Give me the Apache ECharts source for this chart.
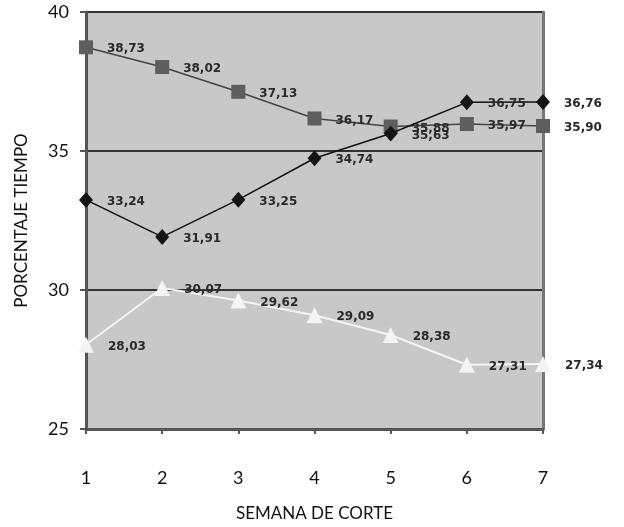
<!DOCTYPE html>
<html><head><meta charset="utf-8">
<script src="https://cdn.jsdelivr.net/npm/echarts@6/dist/echarts.min.js"></script>
<style>html,body{margin:0;padding:0;background:#fff}#c{width:624px;height:527px}</style>
</head><body><div id="c"></div>
<script>
var weeks = ['1','2','3','4','5','6','7'];
var yTicks = [25, 30, 35, 40];
var squareSeries = [38.73, 38.02, 37.13, 36.17, 35.88, 35.97, 35.90];
var diamondSeries = [33.24, 31.91, 33.25, 34.74, 35.63, 36.75, 36.76];
var triangleSeries = [28.03, 30.07, 29.62, 29.09, 28.38, 27.31, 27.34];

var chart = echarts.init(document.getElementById('c'));
function lbl(){
  return {show:true, position:'right', distance:14, offset:[0,2],
    fontFamily:'DejaVu Sans', fontSize:12, fontWeight:'bold', color:'#2a2a2a',
    formatter:function(p){return p.value.toFixed(2).replace('.',',');}};
}
chart.setOption({
  animation:false,
  grid:{left:86,right:81,top:12,bottom:98,show:true,backgroundColor:'#c8c8c8',borderWidth:0},
  xAxis:{type:'category',data:weeks,boundaryGap:false,
    axisLine:{lineStyle:{color:'#555',width:3}},
    axisTick:{show:true,length:5,lineStyle:{color:'#555',width:2}},
    axisLabel:{margin:40,fontFamily:'Lato',fontSize:18,color:'#111'},
    name:'SEMANA DE CORTE',nameLocation:'middle',nameGap:76,
    nameTextStyle:{fontFamily:'Lato',fontSize:17,color:'#111'}},
  yAxis:[{type:'value',min:25,max:40,interval:5,
    axisLine:{show:true,lineStyle:{color:'#555',width:3}},
    axisTick:{show:true,length:6,inside:false,lineStyle:{color:'#555',width:2}},
    axisLabel:{margin:17,fontFamily:'Lato',fontSize:18,color:'#111',
      formatter:function(v){return yTicks.indexOf(v)>=0?String(v):'';}},
    splitLine:{show:true,lineStyle:{color:'#333',width:2}},
    name:'PORCENTAJE TIEMPO',nameLocation:'middle',nameGap:56,
    nameTextStyle:{fontFamily:'Lato',fontSize:17,color:'#111'}},
   {type:'value',min:25,max:40,interval:5,position:'right',
    axisLine:{show:true,lineStyle:{color:'#777',width:3}},
    axisTick:{show:false},axisLabel:{show:false},splitLine:{show:false}}],
  series:[
    {type:'line',data:squareSeries,symbol:'rect',symbolSize:14,
     lineStyle:{color:'#444',width:1.5},itemStyle:{color:'#5e5e5e'},label:lbl(),z:3},
    {type:'line',data:diamondSeries,symbol:'diamond',symbolSize:[14,16],
     lineStyle:{color:'#111',width:1.5},itemStyle:{color:'#151515'},label:lbl(),z:4},
    {type:'line',data:triangleSeries,symbol:'triangle',symbolSize:16,
     lineStyle:{color:'#f4f4f4',width:2},itemStyle:{color:'#f4f4f4'},label:lbl(),z:2}
  ]
});
</script></body></html>
